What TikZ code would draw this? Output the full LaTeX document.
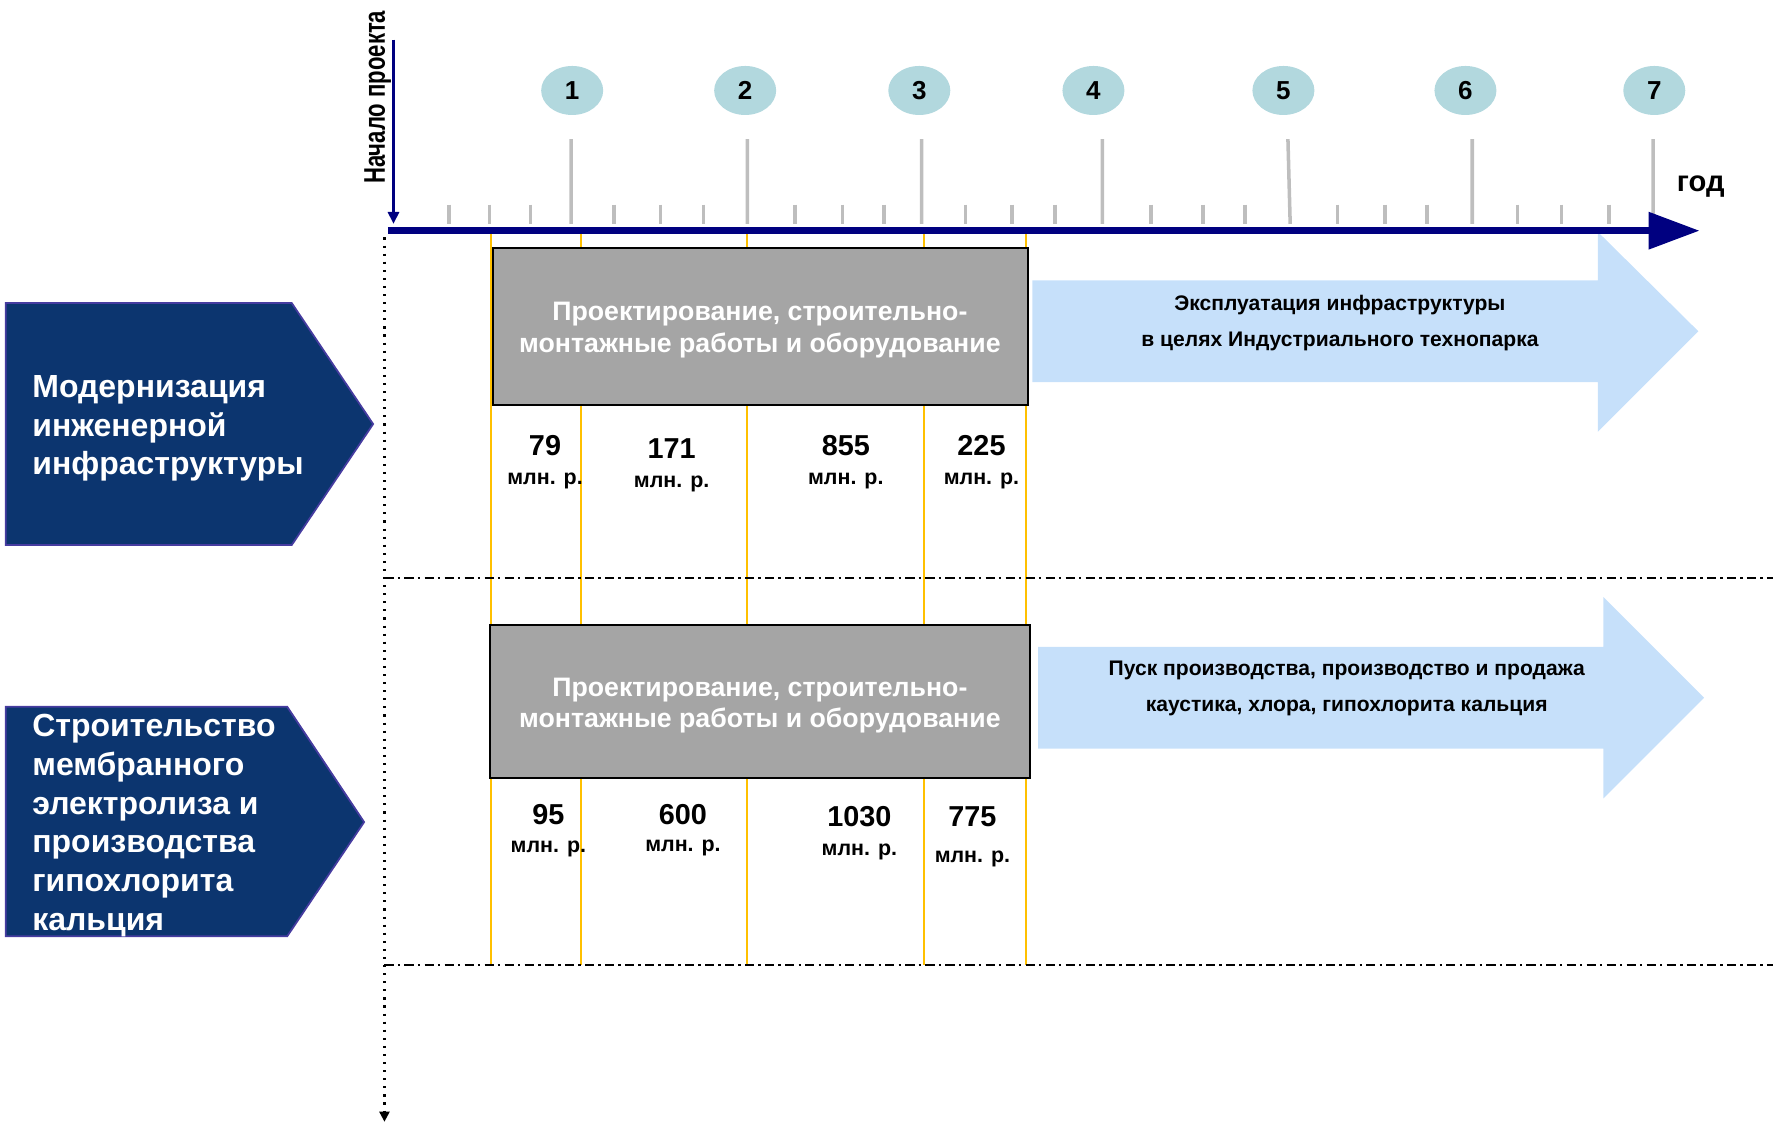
\documentclass[tikz,border=0pt]{standalone}
\usepackage{fontspec}
\setmainfont{Liberation Sans}
\newfontfamily\narrowsans[FakeStretch=0.74]{Liberation Sans}
\usetikzlibrary{arrows.meta,shapes.geometric}

\definecolor{axisnavy}{RGB}{0,0,128}
\definecolor{labelblue}{RGB}{12,53,111}
\definecolor{labelrim}{RGB}{70,60,160}
\definecolor{workgray}{RGB}{165,165,165}
\definecolor{runblue}{RGB}{198,224,250}
\definecolor{yearteal}{RGB}{178,216,222}
\definecolor{tickgray}{RGB}{190,190,190}
\definecolor{stageyellow}{RGB}{255,192,0}

\begin{document}
\begin{tikzpicture}[x=0.11307mm,y=-0.11307mm,
    timeaxis/.style={draw=axisnavy,line width=1.9pt,-{Triangle[length=5.1mm,width=3.6mm]}},
    startaxis/.style={draw=axisnavy,line width=1pt,-{Triangle[length=1.2mm,width=1.1mm]}},
    tickmark/.style={draw=tickgray,line width=1pt},
    yearmark/.style={ellipse,fill=yearteal,minimum width=6.2mm,minimum height=4.9mm,inner sep=0pt,
      font=\fontsize{7.4}{8}\selectfont\bfseries},
    stageline/.style={draw=stageyellow,line width=0.6pt},
    rowline/.style={draw=black,line width=0.6pt,dash pattern=on 2.6pt off 1.2pt on 0.7pt off 1.2pt},
    sideline/.style={draw=black,line width=0.6pt,dash pattern=on 0.6pt off 1.7pt,
      -{Triangle[length=1mm,width=1mm]}},
    workbox/.style={draw=black,line width=0.7pt,fill=workgray,inner sep=0pt},
    worktext/.style={text=white,align=center,inner sep=0pt,font=\fontsize{7.6}{9}\selectfont\bfseries},
    labelshape/.style={fill=labelblue,draw=labelrim,line width=0.5pt},
    labeltext/.style={text=white,align=left,anchor=west,inner sep=0pt,
      font=\fontsize{9.1}{11}\selectfont\bfseries},
    runshape/.style={fill=runblue},
    runtext/.style={align=center,inner sep=0pt,font=\fontsize{6}{10.3}\selectfont\bfseries},
    amount/.style={inner sep=0pt,font=\fontsize{8.2}{9}\selectfont\bfseries},
    unit/.style={inner sep=0pt,font=\fontsize{6.1}{8}\selectfont\bfseries}]

  \useasboundingbox (0,0) rectangle (1568,992);

  % stage borders
  \draw[stageline] (434,204) -- (434,853);
  \draw[stageline] (514,204) -- (514,853);
  \draw[stageline] (661,204) -- (661,853);
  \draw[stageline] (817,204) -- (817,853);
  \draw[stageline] (907,204) -- (907,853);

  % row separators
  \draw[rowline] (340,511) -- (1568,511);
  \draw[rowline] (340,853) -- (1568,853);
  \coordinate (side0) at (340,210);
  \coordinate (side1) at (340,992);
  \draw[sideline] (side0) -- (side1);

  % operation arrows
  \path[runshape] (913,248) -- (1413,248) -- (1413,205) -- (1502,293)
    -- (1413,382) -- (1413,338) -- (913,338) -- cycle;
  \path[runshape] (918,572) -- (1418,572) -- (1418,528) -- (1507,617)
    -- (1418,706) -- (1418,662) -- (918,662) -- cycle;
  \node[runtext] (operation) at (1185,286)
    {Эксплуатация инфраструктуры\\в целях Индустриального технопарка};
  \node[runtext] (launch) at (1191,609)
    {Пуск производства, производство и продажа\\каустика, хлора, гипохлорита кальция};

  % time scale
  \draw[tickmark]
    (397,181) -- (397,198) (433,181) -- (433,198) (469,181) -- (469,198)
    (543,181) -- (543,198) (584,181) -- (584,198) (622,181) -- (622,198)
    (703,181) -- (703,198) (745,181) -- (745,198) (782,181) -- (782,198)
    (854,181) -- (854,198) (895,181) -- (895,198) (933,181) -- (933,198)
    (1018,181) -- (1018,198) (1064,181) -- (1064,198) (1101,181) -- (1101,198)
    (1183,181) -- (1183,198) (1225,181) -- (1225,198) (1262,181) -- (1262,198)
    (1342,181) -- (1342,198) (1381,181) -- (1381,198) (1423,181) -- (1423,198);
  \draw[tickmark]
    (505,123) -- (505,198) (661,123) -- (661,198) (815,123) -- (815,198)
    (975,123) -- (975,198) (1139,123) -- (1141,198) (1302,123) -- (1302,198)
    (1462,123) -- (1462,198);
  \draw
    (506,80) node[yearmark] (y1) {1}
    (659,80) node[yearmark] (y2) {2}
    (813,80) node[yearmark] (y3) {3}
    (967,80) node[yearmark] (y4) {4}
    (1135,80) node[yearmark] (y5) {5}
    (1296,80) node[yearmark] (y6) {6}
    (1463,80) node[yearmark] (y7) {7};
  \coordinate (axis0) at (343,204);
  \coordinate (axis1) at (1503,204);
  \draw[timeaxis] (axis0) -- (axis1);
  \node[font=\fontsize{8.3}{10}\selectfont\bfseries] (yearword) at (1504,165) {год};
  \coordinate (start0) at (348,35);
  \coordinate (start1) at (348,198);
  \draw[startaxis] (start0) -- (start1);
  \node[rotate=90,inner sep=0pt,font=\narrowsans\fontsize{8.5}{9}\selectfont\bfseries]
    (startword) at (334,86) {Начало проекта};

  % project rows
  \path[labelshape] (5,268) -- (258,268) -- (330,375) -- (258,482) -- (5,482) -- cycle;
  \path[labelshape] (5,625) -- (254,625) -- (322,727) -- (254,828) -- (5,828) -- cycle;
  \node[labeltext] (infra) at (28,379)
    {Модернизация\\инженерной\\инфраструктуры};
  \node[labeltext] (membrane) at (28,730)
    {Строительство\\мембранного\\электролиза и\\производства\\гипохлорита\\кальция};

  \node[workbox,minimum width=53.5mm,minimum height=15.7mm] (works1) at (672.5,288.5) {};
  \node[worktext] (works1text) at (672,292)
    {Проектирование, строительно-\\монтажные работы и оборудование};
  \node[workbox,minimum width=54mm,minimum height=15.3mm] (works2) at (672,620.5) {};
  \node[worktext] (works2text) at (672,624)
    {Проектирование, строительно-\\монтажные работы и оборудование};

  % costs
  \node[amount] (c79) at (482,394) {79};
  \node[unit] (u79) at (482,425) {млн. р.};
  \node[amount] (c171) at (594,397) {171};
  \node[unit] (u171) at (594,428) {млн. р.};
  \node[amount] (c855) at (748,394) {855};
  \node[unit] (u855) at (748,425) {млн. р.};
  \node[amount] (c225) at (868,394) {225};
  \node[unit] (u225) at (868,425) {млн. р.};
  \node[amount] (c95) at (485,720) {95};
  \node[unit] (u95) at (485,751) {млн. р.};
  \node[amount] (c600) at (604,720) {600};
  \node[unit] (u600) at (604,750) {млн. р.};
  \node[amount] (c1030) at (760,722) {1030};
  \node[unit] (u1030) at (760,753) {млн. р.};
  \node[amount] (c775) at (860,722) {775};
  \node[unit] (u775) at (860,760) {млн. р.};
\end{tikzpicture}
\end{document}
